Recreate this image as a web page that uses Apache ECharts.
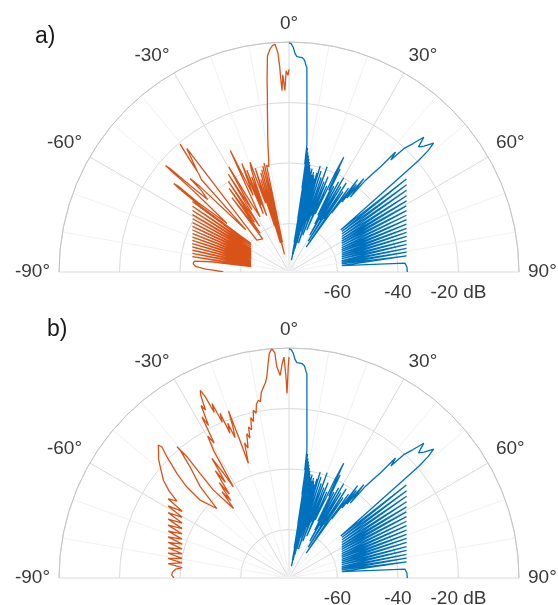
<!DOCTYPE html>
<html>
<head>
<meta charset="utf-8">
<script src="https://cdn.jsdelivr.net/npm/echarts@6/dist/echarts.min.js"></script>
<style>
html,body{margin:0;padding:0;background:#fff;}
#c{width:558px;height:605px;}
</style>
</head>
<body>
<div id="c"></div>
<script>
// ---- data: [angle (deg), level (dB)] ----
const blueTrace = [
[0,-0.3],[0.6,-0.6],[1.1,-1.8],[1.6,-3.8],[2.1,-4.8],[2.8,-4.9],[3.5,-5.0],[4.2,-5.8],[4.7,-7.5],[5.0,-8.2],[5.5,-14.3],[6.0,-19.4],[6.5,-23.7],[7.0,-27.4],[7.5,-30.6],[8.0,-33.5],
[8.3,-40],[8.5,-34.5],[8.8,-48],[9.0,-36],[9.3,-58],[9.5,-37],[9.8,-66],[10.0,-38],[10.3,-60],[10.5,-39],[10.8,-70],[11.0,-40],[11.3,-62],[11.5,-41],[11.8,-72],[12.0,-42],[12.3,-64],[12.6,-41],[12.9,-70],[13.2,-43],[13.5,-62],[13.8,-42],[14.1,-68],[14.4,-43],[14.7,-60],[15.0,-44],[15.3,-66],[15.7,-42],[16.1,-62],[16.4,-39.5],[17.0,-60],[17.6,-41],[18.2,-66],[18.8,-43],[19.4,-58],[19.9,-39],[20.5,-63],[21.1,-44],[21.7,-56],[22.3,-42],[23.0,-61],[23.7,-45],[24.3,-55],[25.0,-40],[25.5,-34],[25.9,-46],[26.4,-38],[27.0,-55],
[27.6,-44],[28.2,-58],[28.8,-42],[29.5,-62],[30.1,-40],[30.7,-56],[31.3,-43],[32.0,-64],[32.7,-41],[33.3,-55],[33.9,-44],[34.6,-66],[35.3,-42],[35.9,-52],[36.6,-38],[37.1,-47],[37.6,-39.5],[38.1,-45],[38.7,-36.5],[39.3,-44],[39.8,-36.6],[40.5,-33],[41.0,-30],[41.6,-23],[42.3,-26],[43.0,-20],[44.0,-17],[45.0,-13],[46.0,-16.5],[47.0,-15],[48.3,-12],[48.9,-15],[49.3,-19.5],[51.0,-54],
[51.6,-26.5],[52.5,-54.0],[53.4,-27.6],[54.3,-54.5],[55.2,-28.7],[56.1,-55.0],[57.0,-29.7],[57.9,-55.4],[58.8,-30.6],[59.7,-55.8],[60.6,-31.5],[61.5,-56.2],[62.4,-32.2],[63.3,-56.5],[64.2,-32.9],[65.1,-56.8],[66.0,-33.5],[66.9,-57.1],[67.8,-34.1],[68.7,-57.3],[69.6,-34.6],[70.5,-57.5],[71.4,-35.0],[72.3,-57.7],[73.2,-35.4],[74.1,-57.9],[75.0,-35.8],[75.9,-58.0],[76.8,-36.1],[77.7,-58.2],[78.6,-36.4],[79.5,-58.3],[80.4,-36.6],[81.3,-58.4],[82.2,-36.8],[83.1,-58.4],
[85.6,-37.6],[87.6,-37.0],[90,-36.9]
];

const orangeTraceA = [
[-90,-54.3],[-89,-52],[-88,-48.5],[-86.5,-45],[-85,-44.2],[-83.5,-44.5],[-82.5,-50],[-81.8,-63.4],
[-80.9,-43.7],[-80.0,-63.3],[-79.1,-43.5],[-78.2,-63.2],[-77.3,-43.3],[-76.4,-63.1],[-75.5,-43.0],[-74.6,-63.0],[-73.7,-42.7],[-72.8,-62.9],[-71.9,-42.4],[-71.0,-62.8],[-70.1,-42.1],[-69.2,-62.6],[-68.3,-41.7],[-67.4,-62.5],[-66.5,-41.2],[-65.6,-62.3],[-64.7,-40.7],[-63.8,-62.1],[-62.9,-40.2],[-62.0,-61.9],[-61.1,-39.6],[-60.2,-61.6],[-59.3,-38.9],[-58.4,-61.3],[-57.5,-38.2],[-56.6,-61.0],[-55.7,-37.4],[-54.8,-60.7],[-53.9,-36.5],[-53.0,-60.3],
[-53.4,-40],[-52.8,-31],[-52.5,-28],[-52.2,-30],[-52.6,-38],[-52.0,-50],
[-49.6,-34],[-49.4,-26],[-49.2,-22.1],[-49.0,-24],[-48.8,-33],[-48.3,-40],
[-47.0,-36],[-46.6,-31],[-46.2,-35],[-45.6,-56],
[-43.5,-34],[-42.6,-32],[-41.2,-25],[-40.4,-20.5],[-40.8,-22.5],[-41.8,-28],[-42.3,-31],[-39.6,-23],[-45.3,-61],
[-38.5,-62],[-37.5,-45],[-36.6,-60],[-35.6,-42],[-34.7,-56],[-33.8,-40],[-32.8,-58],[-31.8,-38],[-30.8,-52],[-29.8,-36],[-28.8,-50],[-27.7,-55.4],[-25.8,-31.4],[-25.0,-48],[-23.5,-36.9],[-23.8,-55],[-22.5,-39.6],[-22.6,-52],[-21.4,-42.2],[-21.6,-56],[-20.7,-45.9],[-20.2,-40],[-19.5,-37.5],[-18.8,-52],[-18.0,-40],
[-17.4,-60],[-16.9,-44],[-16.4,-66],[-15.9,-42],[-15.4,-62],[-14.9,-41],[-14.4,-70],[-13.9,-40],[-13.4,-60],[-12.9,-39],[-12.4,-66],[-11.9,-40],[-11.4,-39.4],
[-10.8,-40.5],[-10.2,-38],[-9.5,-34],[-8.8,-30],[-8.2,-26.5],[-7.6,-22],[-7.06,-17.9],[-6.5,-12],[-5.7,-4.3],[-4.85,-2.05],[-4.2,-1.0],[-3.5,-0.6],[-2.9,-3.5],[-2.6,-8],[-2.4,-13],[-2.2,-16],[-1.8,-10.8],[-1.3,-16],[-0.8,-9.5],[-0.3,-11],[0,-9]
];

const orangeTraceB = [
[-90,-38],[-88.5,-37.2],[-87,-37.5],[-85.5,-38.5],
[-84.4,-40.5],[-83.2,-35.8],[-82.0,-40.3],[-80.8,-35.5],[-79.6,-40.1],[-78.4,-35.2],[-77.2,-39.8],[-76.0,-34.9],[-74.8,-39.4],[-73.6,-34.4],[-72.4,-39.0],[-71.2,-33.8],[-70.0,-38.4],[-68.8,-33.2],[-67.6,-37.8],[-66.4,-32.4],[-65.2,-37.1],[-64.0,-31.6],[-62.8,-36.3],[-61.6,-30.6],[-60.4,-35.4],[-59.2,-29.5],[-58.0,-34.4],[-56.8,-28.3],
[-55.5,-31],[-54.0,-27],[-52.1,-23.4],[-50.5,-21.5],[-49.2,-19.8],[-47.5,-17.5],[-46.3,-16.4],[-44.5,-14.4],[-44.1,-15.7],[-45.2,-19.1],[-47.0,-25.4],[-48.3,-30.7],[-48.8,-36.9],[-46.1,-42.9],[-44.2,-33.9],[-41.7,-26.9],[-40.4,-20.5],[-40.5,-19],[-40.1,-23.6],[-40.4,-30.7],[-40.7,-37.7],[-38.6,-46.6],
[-37.8,-40],[-37.0,-44],[-36.2,-37],[-35.4,-42],[-34.5,-33],[-33.6,-38],[-32.8,-29],[-32.0,-35],[-31.4,-40.7],[-30.6,-27],[-29.8,-22],[-29.0,-25],[-28.4,-15.5],[-27.8,-19],[-27.0,-12],[-26.4,-14],[-25.8,-9],[-25.3,-7.4],[-24.8,-10],[-24.3,-16],[-23.8,-13],[-23.2,-20],[-22.7,-17],[-22.2,-24.3],[-21.6,-21],[-21.0,-26.3],[-20.4,-23],[-19.9,-17.3],[-19.6,-28],[-19.5,-35.8],
[-18.2,-29],[-17.5,-31],[-16.3,-26.3],[-15.6,-28],[-15.0,-24.3],[-14.2,-25.5],[-13.4,-21.5],[-12.8,-23],[-12.0,-19.3],[-11.3,-20.5],[-10.6,-17.5],[-9.8,-16.4],[-9.2,-17],[-8.5,-14],[-7.6,-12.3],[-6.9,-11],[-6.3,-9.2],[-5.6,-5],[-5.0,-1.5],[-4.3,0],[-3.6,-1.5],[-3.3,-6.1],[-2.5,-9],[-1.8,-5],[-1.3,-3],[-0.9,-9],[-0.6,-15],[-0.2,-6],[0,-3]
];

const angleTicks = [-90, -60, -30, 0, 30, 60, 90];
const ringValues = [-60, -40, -20, 0];
const ringLabels = [-60, -40, -20];
const panelLabels = ['a)', 'b)'];
const rMin = -76, rMax = 0;

// ---- chart ----
const BLUE = '#0072BD', ORANGE = '#D95319';
const chart = echarts.init(document.getElementById('c'), null, {renderer: 'canvas'});

// angle axis runs counter-clockwise from the right, so true angle = -value
function toPolar(trace) { return trace.map(p => [p[1], -p[0]]); }

function angleAxisCfg(i) {
  return {
    polarIndex: i, type: 'value', min: -90, max: 90, interval: 30,
    startAngle: 0, endAngle: 180, clockwise: false,
    axisLine: {show: true, lineStyle: {color: '#c4c4c4', width: 1}},
    axisTick: {show: false},
    minorTick: {show: false, splitNumber: 3},
    minorSplitLine: {show: true, lineStyle: {color: '#f1f1f1', width: 1}},
    splitLine: {show: true, lineStyle: {color: '#dadada', width: 1}},
    axisLabel: {
      show: true, margin: 9, fontSize: 19, color: '#3a3a3a', fontFamily: 'Liberation Sans',
      formatter: v => { const t = -v; return (t === 0 ? '0' : String(t)) + '\u00b0'; }
    }
  };
}
function radiusAxisCfg(i) {
  return {
    polarIndex: i, type: 'value', min: rMin, max: rMax,
    axisLine: {show: false},
    axisTick: {show: false, customValues: ringValues},
    splitLine: {show: true, lineStyle: {color: '#dadada', width: 1}},
    axisLabel: {
      show: true, customValues: ringLabels, fontSize: 19, color: '#3a3a3a', fontFamily: 'Liberation Sans',
      align: 'center', verticalAlign: 'top', margin: -11,
      formatter: v => v === -20 ? '-20 dB' : String(v)
    }
  };
}

const option = {
  backgroundColor: '#ffffff',
  animation: false,
  title: [
    {text: panelLabels[0], left: 30, top: 20, textStyle: {fontSize: 23, fontWeight: 'normal', color: '#1a1a1a', fontFamily: 'Liberation Sans'}},
    {text: panelLabels[1], left: 42, top: 313, textStyle: {fontSize: 23, fontWeight: 'normal', color: '#1a1a1a', fontFamily: 'Liberation Sans'}}
  ],
  polar: [
    {center: [289, 272], radius: 230},
    {center: [289, 578], radius: 230}
  ],
  angleAxis: [angleAxisCfg(0), angleAxisCfg(1)],
  radiusAxis: [radiusAxisCfg(0), radiusAxisCfg(1)],
  series: [
    {type: 'line', coordinateSystem: 'polar', polarIndex: 0, data: toPolar(orangeTraceA), showSymbol: false, symbol: 'none', lineStyle: {color: ORANGE, width: 1.3}, z: 3},
    {type: 'line', coordinateSystem: 'polar', polarIndex: 0, data: toPolar(blueTrace), showSymbol: false, symbol: 'none', lineStyle: {color: BLUE, width: 1.3}, z: 3},
    {type: 'line', coordinateSystem: 'polar', polarIndex: 1, data: toPolar(orangeTraceB), showSymbol: false, symbol: 'none', lineStyle: {color: ORANGE, width: 1.3}, z: 3},
    {type: 'line', coordinateSystem: 'polar', polarIndex: 1, data: toPolar(blueTrace), showSymbol: false, symbol: 'none', lineStyle: {color: BLUE, width: 1.3}, z: 3}
  ]
};
chart.setOption(option);
</script>
</body>
</html>
